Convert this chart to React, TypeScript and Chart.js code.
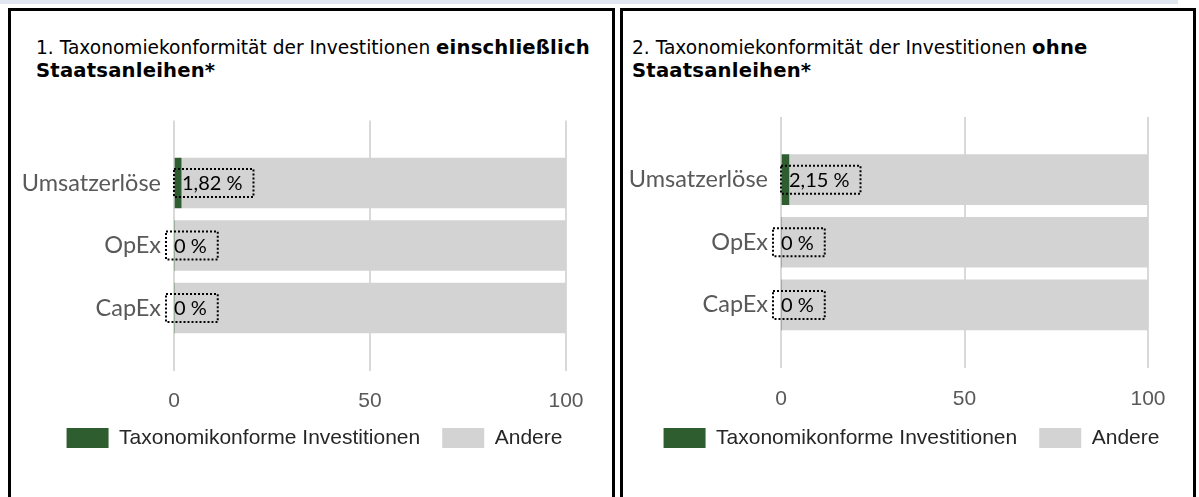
import React, { useEffect, useRef } from "react";
import { Chart, registerables } from "chart.js";

Chart.register(...registerables);

// ---- data ----
const categories = ["Umsatzerlöse", "OpEx", "CapEx"];
const alignedInclSovereign = [1.82, 0, 0];
const otherInclSovereign = [98.18, 100, 100];
const alignedExclSovereign = [2.15, 0, 0];
const otherExclSovereign = [97.85, 100, 100];
const seriesNames = ["Taxonomikonforme Investitionen", "Andere"];
const xTicks = [0, 50, 100];
const titlePrefix1 = "1. Taxonomiekonformität der Investitionen ";
const titleBold1 = "einschließlich";
const titlePrefix2 = "2. Taxonomiekonformität der Investitionen ";
const titleBold2 = "ohne";
const titleLine2 = "Staatsanleihen*";

const GREEN = "#2e5e2f";
const GREY = "#d3d3d3";

const fmtPct = (v: number) =>
  v.toLocaleString("de-DE", { maximumFractionDigits: 2 }) + " %";

const boxLabelPlugin = {
  id: "boxLabels",
  afterDatasetsDraw(chart: any) {
    const meta = chart.getDatasetMeta(0);
    const ds = chart.data.datasets[0];
    const ctx = chart.ctx;
    ctx.save();
    ctx.font = "20px Lato";
    ctx.textBaseline = "middle";
    ctx.textAlign = "left";
    meta.data.forEach((el: any, i: number) => {
      const v = ds.data[i];
      if (v === null || v === undefined) return;
      const { x, y, base } = el.getProps(["x", "y", "base"], true);
      const text = fmtPct(v);
      const tw = ctx.measureText(text).width;
      const left = Math.min(base, x) + (v > 0 ? -1 : -8);
      const w = tw + 8 + 11;
      const h = 28;
      ctx.setLineDash([2, 2]);
      ctx.lineWidth = 2;
      ctx.strokeStyle = "#000";
      ctx.strokeRect(left, y - h / 2, w, h);
      ctx.setLineDash([]);
      ctx.fillStyle = "#000";
      ctx.fillText(text, left + 8, y + 1);
    });
    ctx.restore();
  },
};

type Layout = {
  left: number;
  top: number;
  width: number;
  height: number;
  pad: { left: number; right: number; top: number; bottom: number };
  yWidth: number;
  xHeight: number;
  xTickPad: number;
  xRightOverhang: number;
};

function BarPanel({
  aligned,
  other,
  layout,
}: {
  aligned: number[];
  other: number[];
  layout: Layout;
}) {
  const ref = useRef<HTMLCanvasElement>(null);
  useEffect(() => {
    if (!ref.current) return;
    const labels = ["", ...categories, ""];
    const chart = new Chart(ref.current, {
      type: "bar",
      data: {
        labels,
        datasets: [
          {
            label: seriesNames[0],
            data: [null, ...aligned, null],
            backgroundColor: GREEN,
            borderWidth: 0,
            barThickness: 50,
          },
          {
            label: seriesNames[1],
            data: [null, ...other, null],
            backgroundColor: GREY,
            borderWidth: 0,
            barThickness: 50,
          },
        ],
      },
      options: {
        indexAxis: "y",
        responsive: false,
        animation: false,
        layout: { padding: layout.pad },
        scales: {
          x: {
            type: "linear",
            stacked: true,
            min: 0,
            max: 100,
            afterBuildTicks: (scale: any) => {
              scale.ticks = xTicks.map((v) => ({ value: v }));
            },
            afterFit: (scale: any) => {
              scale.height = layout.xHeight;
              scale.paddingLeft = 0;
              scale.paddingRight = layout.xRightOverhang;
              // let tick labels extend below the shortened axis box
              scale._computeLabelArea = () => undefined;
            },
            grid: { color: "#d9d9d9", lineWidth: 2, drawTicks: false },
            border: { display: false },
            ticks: {
              padding: layout.xTickPad,
              color: "#595959",
              font: { family: "'Liberation Sans', Arial", size: 21 },
            },
          },
          y: {
            type: "category",
            stacked: true,
            offset: false,
            afterFit: (scale: any) => {
              scale.width = layout.yWidth;
              scale.paddingTop = 0;
              scale.paddingBottom = 0;
            },
            grid: { display: false, drawTicks: false },
            border: { display: false },
            ticks: {
              autoSkip: false,
              padding: 13,
              color: "#595959",
              font: { family: "Lato", size: 23.5 },
            },
          },
        },
        plugins: {
          legend: {
            position: "bottom",
            align: "center",
            labels: {
              boxWidth: 42,
              boxHeight: 20,
              padding: 22,
              color: "#262626",
              font: { family: "'Liberation Sans', Arial", size: 21 },
            },
          },
          tooltip: { enabled: false },
          title: { display: false },
        },
      },
      plugins: [boxLabelPlugin],
    } as any);
    return () => chart.destroy();
  }, []);
  return (
    <canvas
      ref={ref}
      width={layout.width}
      height={layout.height}
      style={{
        position: "absolute",
        left: layout.left,
        top: layout.top,
        width: layout.width,
        height: layout.height,
      }}
    />
  );
}

const titleStyle: React.CSSProperties = {
  position: "absolute",
  top: 35.5,
  fontFamily: "'DejaVu Sans', sans-serif",
  fontSize: 18.6,
  lineHeight: "23px",
  color: "#000",
  whiteSpace: "nowrap",
};
const boldStyle: React.CSSProperties = {
  fontWeight: "bold",
  fontSize: 19.6,
  letterSpacing: 0.2,
};

export default function App() {
  const leftLayout: Layout = {
    left: 11,
    top: 80,
    width: 607,
    height: 400,
    pad: { left: 0, right: 0, top: 40.5, bottom: 21.5 },
    yWidth: 163,
    xHeight: 35,
    xTickPad: 18,
    xRightOverhang: 52,
  };
  const rightLayout: Layout = {
    left: 623,
    top: 80,
    width: 577,
    height: 400,
    pad: { left: 0, right: 0, top: 37, bottom: 21.5 },
    yWidth: 158,
    xHeight: 38,
    xTickPad: 19,
    xRightOverhang: 52,
  };
  return (
    <div
      style={{
        position: "fixed",
        left: 0,
        top: 0,
        width: 1199,
        height: 497,
        background: "#fff",
        overflow: "hidden",
      }}
    >
      <div
        style={{
          position: "absolute",
          left: 0,
          top: 0,
          width: 1178,
          height: 4,
          background: "#e1e7f1",
        }}
      />
      <div
        style={{
          position: "absolute",
          left: 8,
          top: 8,
          width: 607,
          height: 500,
          boxSizing: "border-box",
          border: "3px solid #000",
          borderBottom: "none",
        }}
      />
      <div
        style={{
          position: "absolute",
          left: 620,
          top: 8,
          width: 576,
          height: 500,
          boxSizing: "border-box",
          border: "3px solid #000",
          borderBottom: "none",
        }}
      />
      <div style={{ ...titleStyle, left: 36 }}>
        {titlePrefix1}
        <span style={boldStyle}>{titleBold1}</span>
        <br />
        <span style={boldStyle}>{titleLine2}</span>
      </div>
      <div style={{ ...titleStyle, left: 632 }}>
        {titlePrefix2}
        <span style={boldStyle}>{titleBold2}</span>
        <br />
        <span style={boldStyle}>{titleLine2}</span>
      </div>
      <BarPanel
        aligned={alignedInclSovereign}
        other={otherInclSovereign}
        layout={leftLayout}
      />
      <BarPanel
        aligned={alignedExclSovereign}
        other={otherExclSovereign}
        layout={rightLayout}
      />
    </div>
  );
}
